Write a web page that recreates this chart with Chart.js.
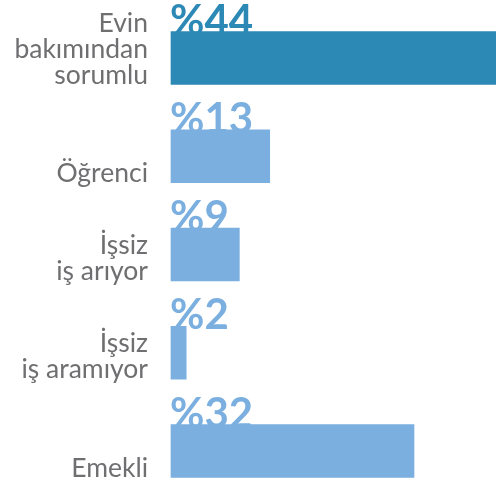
<!DOCTYPE html>
<html>
<head>
<meta charset="utf-8">
<script src="https://cdn.jsdelivr.net/npm/chart.js@4"></script>
<style>
  html, body { margin: 0; padding: 0; background: #ffffff; }
  #wrap { width: 496px; height: 487px; position: relative; }
</style>
</head>
<body>
<div id="wrap"><canvas id="c" width="496" height="487"></canvas></div>
<script>
const categories = [
  ["Evin", "bakımından", "sorumlu"],
  ["Öğrenci"],
  ["İşsiz", "iş arıyor"],
  ["İşsiz", "iş aramıyor"],
  ["Emekli"]
];
const values = [44, 13, 9, 2, 32];
const valueLabels = ["%44", "%13", "%9", "%2", "%32"];
const barColors = ["#2c88b5", "#7aafdf", "#7aafdf", "#7aafdf", "#7aafdf"];

const labelPlugin = {
  id: 'customLabels',
  beforeDatasetsDraw(chart) {
    const ctx = chart.ctx;
    const meta = chart.getDatasetMeta(0);
    ctx.save();
    ctx.font = 'bold 42px Lato';
    ctx.textAlign = 'left';
    ctx.textBaseline = 'alphabetic';
    meta.data.forEach((bar, i) => {
      const top = bar.y - bar.height / 2;
      ctx.fillStyle = barColors[i];
      ctx.fillText(valueLabels[i], chart.chartArea.left - 1, top + 3);
    });
    ctx.restore();
  },
  afterDatasetsDraw(chart) {
    const ctx = chart.ctx;
    const meta = chart.getDatasetMeta(0);
    ctx.save();
    ctx.font = '26.5px Lato';
    ctx.textAlign = 'right';
    ctx.textBaseline = 'alphabetic';
    ctx.fillStyle = '#6f6f71';
    meta.data.forEach((bar, i) => {
      const bottom = bar.y + bar.height / 2;
      const lines = categories[i];
      lines.forEach((line, j) => {
        const off = (lines.length - 1 - j) * 25.8;
        ctx.fillText(line, 148, bottom - off - 1);
      });
    });
    ctx.restore();
  }
};

new Chart(document.getElementById('c'), {
  type: 'bar',
  data: {
    labels: categories.map(l => l.join(' ')),
    datasets: [{
      data: values,
      backgroundColor: barColors,
      borderWidth: 0,
      barThickness: 53,
      clip: false
    }]
  },
  options: {
    indexAxis: 'y',
    responsive: false,
    animation: false,
    devicePixelRatio: 1,
    layout: { padding: { left: 171, top: 58, bottom: 36, right: 0 } },
    plugins: { legend: { display: false }, tooltip: { enabled: false } },
    scales: {
      x: { display: false, min: 0, max: 42.8 },
      y: { display: false, offset: false, grid: { display: false } }
    }
  },
  plugins: [labelPlugin]
});
</script>
</body>
</html>
